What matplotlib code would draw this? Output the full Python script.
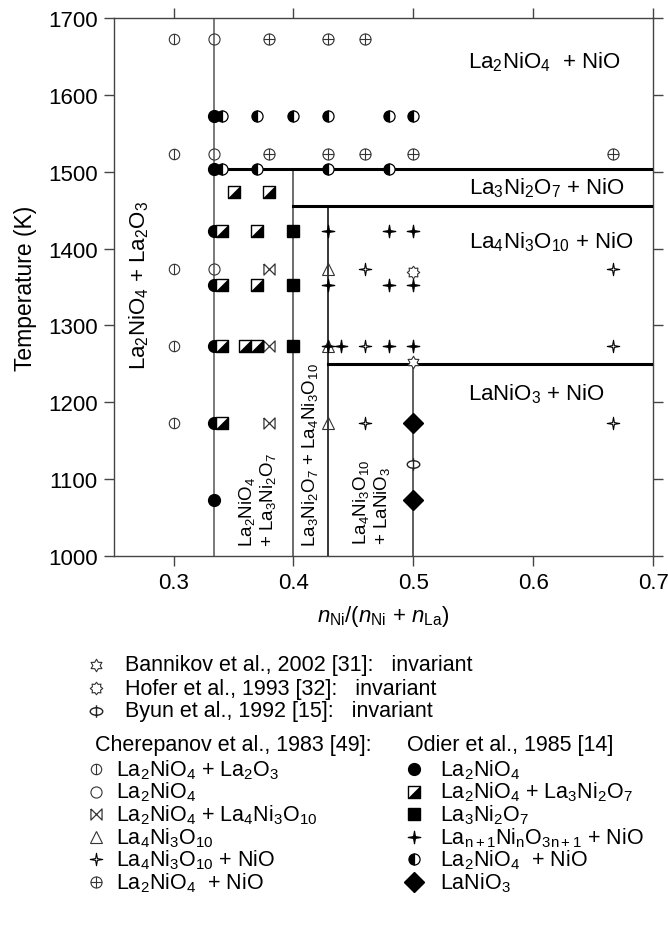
import numpy as np
import matplotlib
matplotlib.use('Agg')
import matplotlib.pyplot as plt
from matplotlib.path import Path

plt.rcParams['font.family'] = ['Liberation Sans', 'DejaVu Sans']
plt.rcParams['mathtext.fontset'] = 'custom'
plt.rcParams['mathtext.rm'] = 'Liberation Sans'
plt.rcParams['mathtext.it'] = 'Liberation Sans:italic'
plt.rcParams['mathtext.bf'] = 'Liberation Sans:bold'

# ---- data: composition x = nNi/(nNi+nLa), temperature in K ----
# Cherepanov et al., 1983
cher_la2o3_x = [0.3, 0.3, 0.3, 0.3, 0.3]
cher_la2o3_t = [1673, 1523, 1373, 1273, 1173]
cher_214_x = [1/3, 1/3, 1/3]
cher_214_t = [1673, 1523, 1373]
cher_214_4310_x = [0.38, 0.38, 0.38]
cher_214_4310_t = [1373, 1273, 1173]
cher_4310_x = [3/7, 3/7, 3/7]
cher_4310_t = [1373, 1273, 1173]
cher_4310_nio_x = [0.46, 0.46, 0.46, 2/3, 2/3, 2/3]
cher_4310_nio_t = [1373, 1273, 1173, 1373, 1273, 1173]
cher_214_nio_x = [0.38, 3/7, 0.46, 0.38, 3/7, 0.46, 0.5, 2/3]
cher_214_nio_t = [1673, 1673, 1673, 1523, 1523, 1523, 1523, 1523]

# Odier et al., 1985
odier_214_x = [1/3] * 7
odier_214_t = [1573, 1503, 1423, 1353, 1273, 1173, 1073]
odier_214_327_x = [0.35, 0.38, 0.34, 0.37, 0.34, 0.37, 0.34, 0.36, 0.37, 0.34]
odier_214_327_t = [1473, 1473, 1423, 1423, 1353, 1353, 1273, 1273, 1273, 1173]
odier_327_x = [0.4, 0.4, 0.4]
odier_327_t = [1423, 1353, 1273]
odier_rp_nio_x = [3/7, 0.48, 0.5, 3/7, 0.48, 0.5, 3/7, 0.44, 0.48, 0.5]
odier_rp_nio_t = [1423, 1423, 1423, 1353, 1353, 1353, 1273, 1273, 1273, 1273]
odier_214_nio_x = [0.34, 0.37, 0.4, 3/7, 0.48, 0.5, 0.34, 0.37, 3/7, 0.48]
odier_214_nio_t = [1573, 1573, 1573, 1573, 1573, 1573, 1503, 1503, 1503, 1503]
odier_113_x = [0.5, 0.5]
odier_113_t = [1173, 1073]

# invariant points
bannikov_x, bannikov_t = [0.5], [1253]
hofer_x, hofer_t = [0.5], [1369]
byun_x, byun_t = [0.5], [1120]

# phase boundaries
invariant_t = [1503, 1455, 1250]   # La2NiO4/La3Ni2O7/La4Ni3O10/LaNiO3 + NiO
boundary_x0 = [1/3, 0.4, 3/7]
line_x = [1/3, 0.4, 3/7, 0.5]
line_top = [1700, 1503, 1455, 1250]
line_col = ['#555555', '#444444', 'black', '#333333']


## build marker paths
def circle_plus(segments, sx=1.0, sy=1.0):
	circ = Path.unit_circle()
	verts = [(x * sx, y * sy) for x, y in circ.vertices]
	codes = list(circ.codes)
	for (x0, y0), (x1, y1) in segments:
		verts += [(x0, y0), (x1, y1)]
		codes += [Path.MOVETO, Path.LINETO]
	return Path(verts, codes)

def star(n, inner):
	ang = np.pi / 2 + np.arange(2 * n) * np.pi / n
	r = np.where(np.arange(2 * n) % 2 == 0, 1.0, inner)
	verts = np.column_stack([r * np.cos(ang), r * np.sin(ang)])
	verts = np.vstack([verts, verts[:1]])
	return Path(verts, closed=True)

m_phi = circle_plus([((0, -1), (0, 1))])
m_oplus = circle_plus([((0, -1), (0, 1)), ((-1, 0), (1, 0))])
m_byun = circle_plus([((0, -1), (0, 1))], sx=1.0, sy=0.6)
m_bowtie = Path([(-1, 1), (-1, -1), (1, 1), (1, -1), (-1, 1)])
m_star4 = star(4, 0.2)
m_hexa = star(6, 0.58)
m_hofer = star(8, 0.7)
m_square = Path([(-1, -1), (1, -1), (1, 1), (-1, 1), (-1, -1)], closed=True)
m_tri = Path([(-1, -1), (1, -1), (1, 1), (-1, -1)], closed=True)


## draw one symbol type at the given points
def draw(ax, xs, ts, kind):
	kw = dict(ls='none', color='black', clip_on=False, zorder=5)
	if kind == 'phi':
		ax.plot(xs, ts, marker=m_phi, ms=7.5, mfc='none', mec='#333333', mew=0.8, **kw)
	elif kind == 'open':
		ax.plot(xs, ts, marker='o', ms=8, mfc='none', mec='#333333', mew=0.8, **kw)
	elif kind == 'bowtie':
		ax.plot(xs, ts, marker=m_bowtie, ms=8, mfc='none', mec='#333333', mew=0.9, **kw)
	elif kind == 'tri':
		ax.plot(xs, ts, marker='^', ms=9, mfc='none', mec='#333333', mew=0.8, **kw)
	elif kind == 'star_open':
		ax.plot(xs, ts, marker=m_star4, ms=9, mfc='white', mec='black', mew=0.8, **kw)
	elif kind == 'oplus':
		ax.plot(xs, ts, marker=m_oplus, ms=8, mfc='none', mec='#333333', mew=0.8, **kw)
	elif kind == 'dot':
		ax.plot(xs, ts, marker='o', ms=8.5, mfc='black', mec='black', **kw)
	elif kind == 'halfsq':
		ax.plot(xs, ts, marker=m_square, ms=8, mfc='white', mec='black', mew=1.0, **kw)
		ax.plot(xs, ts, marker=m_tri, ms=8, mfc='black', mec='black', mew=0.5, **kw)
	elif kind == 'square':
		ax.plot(xs, ts, marker='s', ms=8.5, mfc='black', mec='black', **kw)
	elif kind == 'star':
		ax.plot(xs, ts, marker=m_star4, ms=9, mfc='black', mec='black', mew=0.9, **kw)
	elif kind == 'halfdot':
		ax.plot(xs, ts, marker='o', ms=8, fillstyle='left', mfc='black',
			markerfacecoloralt='white', mec='black', mew=0.9, **kw)
	elif kind == 'diamond':
		ax.plot(xs, ts, marker='D', ms=10.5, mfc='black', mec='black', **kw)
	elif kind == 'hexa':
		ax.plot(xs, ts, marker=m_hexa, ms=9, mfc='white', mec='#333333', mew=0.8, **kw)
	elif kind == 'hofer':
		ax.plot(xs, ts, marker=m_hofer, ms=9, mfc='white', mec='#333333', mew=0.8, **kw)
	elif kind == 'byun':
		ax.plot(xs, ts, marker=m_byun, ms=9, mfc='white', mec='#222222', mew=1.0, **kw)


fig = plt.figure(figsize=(6.68, 9.45), dpi=100)
ax = fig.add_axes([0.170, 0.4106, 0.808, 0.5693])
ax.set_xlim(0.25, 0.7)
ax.set_ylim(1000, 1700)

# vertical phase lines
for x, top, c in zip(line_x, line_top, line_col):
	ax.plot([x, x], [1000, top], color=c, lw=1.1, zorder=2)
# horizontal invariants
for t, x0 in zip(invariant_t, boundary_x0):
	ax.plot([x0, 0.7], [t, t], color='black', lw=2.2, zorder=3)

draw(ax, cher_la2o3_x, cher_la2o3_t, 'phi')
draw(ax, cher_214_x, cher_214_t, 'open')
draw(ax, cher_214_4310_x, cher_214_4310_t, 'bowtie')
draw(ax, cher_4310_x, cher_4310_t, 'tri')
draw(ax, cher_4310_nio_x, cher_4310_nio_t, 'star_open')
draw(ax, cher_214_nio_x, cher_214_nio_t, 'oplus')
draw(ax, odier_214_x, odier_214_t, 'dot')
draw(ax, odier_214_327_x, odier_214_327_t, 'halfsq')
draw(ax, odier_327_x, odier_327_t, 'square')
draw(ax, odier_rp_nio_x, odier_rp_nio_t, 'star')
draw(ax, odier_214_nio_x, odier_214_nio_t, 'halfdot')
draw(ax, odier_113_x, odier_113_t, 'diamond')
draw(ax, bannikov_x, bannikov_t, 'hexa')
draw(ax, hofer_x, hofer_t, 'hofer')
draw(ax, byun_x, byun_t, 'byun')

# phase field labels
fs = 16
fs_small = 13.5
ax.text(0.609, 1644, r'La$_2$NiO$_4$  + NiO', fontsize=fs, ha='center', va='center')
ax.text(0.611, 1480, r'La$_3$Ni$_2$O$_7$ + NiO', fontsize=fs, ha='center', va='center')
ax.text(0.615, 1410, r'La$_4$Ni$_3$O$_{10}$ + NiO', fontsize=fs, ha='center', va='center')
ax.text(0.603, 1212, r'LaNiO$_3$ + NiO', fontsize=fs, ha='center', va='center')
ax.text(0.271, 1353, r'La$_2$NiO$_4$ + La$_2$O$_3$', fontsize=fs, rotation=90, ha='center', va='center')
ax.text(0.370, 1013, 'La$_2$NiO$_4$\n+ La$_3$Ni$_2$O$_7$', fontsize=fs_small, rotation=90,
	ha='center', va='bottom', multialignment='left', linespacing=1.05)
ax.text(0.414, 1013, r'La$_3$Ni$_2$O$_7$ + La$_4$Ni$_3$O$_{10}$', fontsize=fs_small, rotation=90,
	ha='center', va='bottom')
ax.text(0.465, 1015, 'La$_4$Ni$_3$O$_{10}$\n+ LaNiO$_3$', fontsize=fs_small, rotation=90,
	ha='center', va='bottom', multialignment='left', linespacing=1.05)

ax.set_xticks([0.3, 0.4, 0.5, 0.6, 0.7])
ax.set_xticklabels(['0.3', '0.4', '0.5', '0.6', '0.7'])
ax.set_yticks(np.arange(1000, 1701, 100))
ax.tick_params(direction='out', length=7.5, width=1, color='#444444', labelsize=16,
	top=True, right=True, labeltop=False, labelright=False, pad=4)
for s in ax.spines.values():
	s.set_color('#444444')
	s.set_linewidth(1.0)
ax.set_xlabel(r'$n_{\mathrm{Ni}}/(n_{\mathrm{Ni}}$ + $n_{\mathrm{La}})$', fontsize=16, labelpad=7)
ax.set_ylabel('Temperature (K)', fontsize=16.5, labelpad=8)

# key below the diagram, in pixel coordinates
key = fig.add_axes([0, 0, 1, 1])
key.set_xlim(0, 668)
key.set_ylim(945, 0)
key.set_axis_off()

fs_key = 15.5
top_rows = [('hexa', 'Bannikov et al., 2002 [31]:   invariant'),
	('hofer', 'Hofer et al., 1993 [32]:   invariant'),
	('byun', 'Byun et al., 1992 [15]:   invariant')]
cher_rows = [('phi', r'La$_2$NiO$_4$ + La$_2$O$_3$'),
	('open', r'La$_2$NiO$_4$'),
	('bowtie', r'La$_2$NiO$_4$ + La$_4$Ni$_3$O$_{10}$'),
	('tri', r'La$_4$Ni$_3$O$_{10}$'),
	('star_open', r'La$_4$Ni$_3$O$_{10}$ + NiO'),
	('oplus', r'La$_2$NiO$_4$  + NiO')]
odier_rows = [('dot', r'La$_2$NiO$_4$'),
	('halfsq', r'La$_2$NiO$_4$ + La$_3$Ni$_2$O$_7$'),
	('square', r'La$_3$Ni$_2$O$_7$'),
	('star', r'La$_{\mathrm{n+1}}$Ni$_{\mathrm{n}}$O$_{\mathrm{3n+1}}$ + NiO'),
	('halfdot', r'La$_2$NiO$_4$  + NiO'),
	('diamond', r'LaNiO$_3$')]

for i, (kind, label) in enumerate(top_rows):
	y = 666 + 23 * i
	draw(key, [96], [y], kind)
	key.text(125, y, label, fontsize=fs_key, va='center')

key.text(95, 746, 'Cherepanov et al., 1983 [49]:', fontsize=fs_key, va='center')
key.text(407, 746, 'Odier et al., 1985 [14]', fontsize=fs_key, va='center')
for i, (kind, label) in enumerate(cher_rows):
	y = 770 + 22.6 * i
	draw(key, [96], [y], kind)
	key.text(116, y, label, fontsize=fs_key, va='center')
for i, (kind, label) in enumerate(odier_rows):
	y = 770 + 22.6 * i
	draw(key, [414], [y], kind)
	key.text(440, y, label, fontsize=fs_key, va='center')

fig.savefig('out.png', dpi=100)
